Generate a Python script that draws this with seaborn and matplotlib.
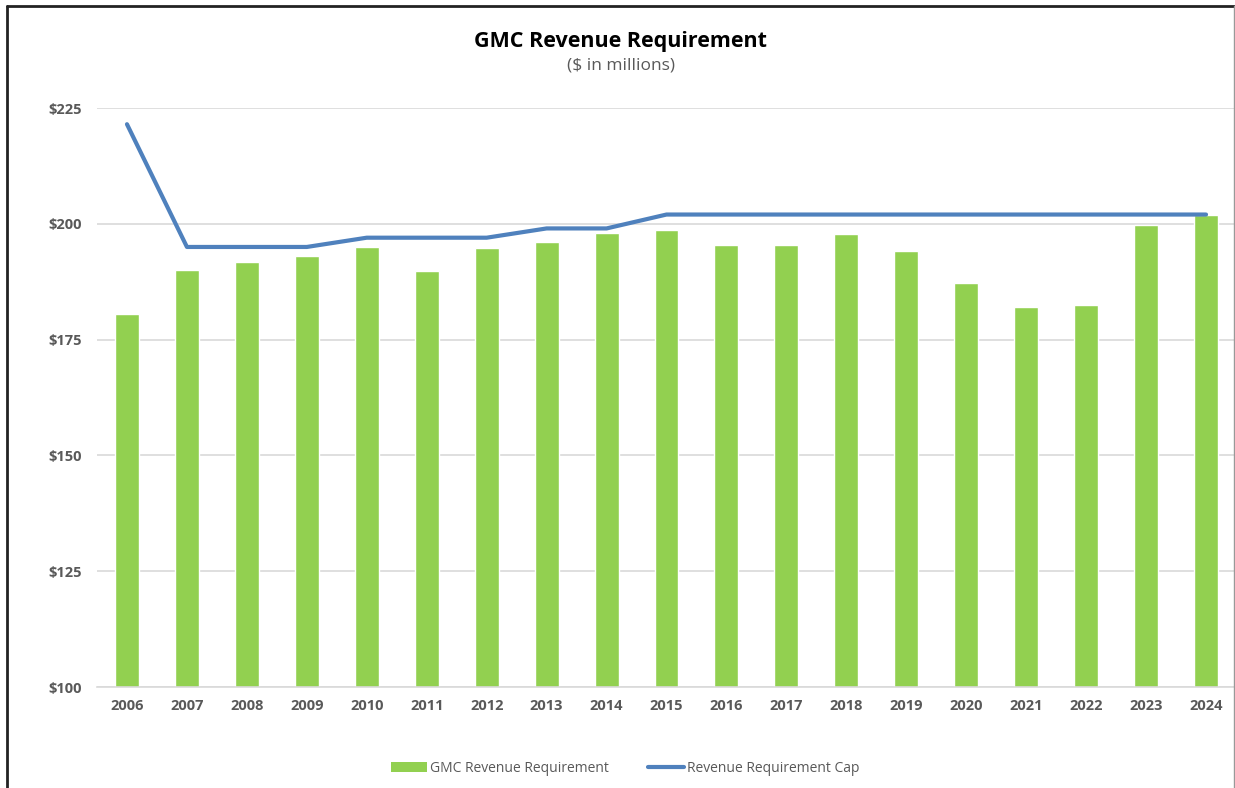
import matplotlib
matplotlib.use("Agg")
import matplotlib.pyplot as plt
import seaborn as sns
import numpy as np
from matplotlib.lines import Line2D
from matplotlib.patches import Patch

years = ["2006", "2007", "2008", "2009", "2010", "2011", "2012", "2013", "2014", "2015",
         "2016", "2017", "2018", "2019", "2020", "2021", "2022", "2023", "2024"]
revenue = [180.5, 190.0, 191.7, 193.0, 195.0, 189.8, 194.8, 196.1, 198.0, 198.6,
           195.4, 195.4, 197.8, 194.1, 187.2, 182.0, 182.5, 199.7, 201.9]
cap = [221.5, 195.0, 195.0, 195.0, 197.0, 197.0, 197.0, 199.0, 199.0, 202.0,
       202.0, 202.0, 202.0, 202.0, 202.0, 202.0, 202.0, 202.0, 202.0]
yticks = [100, 125, 150, 175, 200, 225]
ytick_labels = ["$100", "$125", "$150", "$175", "$200", "$225"]

sns.set_theme(style="white")
plt.rcParams['font.family'] = ['Open Sans', 'DejaVu Sans']

GREEN = "#92D050"
BLUE = "#4F81BD"
GREY = "#595959"

fig = plt.figure(figsize=(12.35, 7.88), dpi=100)
ax = fig.add_axes([97/1235, 1 - 687/788, (1236 - 97)/1235, (687 - 108)/788])

sns.barplot(x=years, y=revenue, color=GREEN, width=0.4, saturation=1, ax=ax, zorder=2)
sns.lineplot(x=np.arange(len(years)), y=cap, color=BLUE, linewidth=3, ax=ax, zorder=3)

ax.set_ylim(100, 225)
ax.set_xlim(-0.5, len(years) - 0.5)
ax.set_yticks(yticks)
ax.set_yticklabels(ytick_labels)
ax.yaxis.grid(True, color="#D9D9D9", linewidth=1.2, zorder=0)
ax.set_axisbelow(True)
for s in ["top", "right", "left"]:
    ax.spines[s].set_visible(False)
ax.spines["bottom"].set_color("#D9D9D9")
ax.spines["bottom"].set_linewidth(1.2)
ax.set_xlabel("")
ax.set_ylabel("")
ax.tick_params(axis="both", length=0, labelsize=10.5, labelcolor=GREY)
ax.tick_params(axis="y", pad=11)
ax.tick_params(axis="x", pad=9)
for lbl in ax.get_xticklabels() + ax.get_yticklabels():
    lbl.set_fontweight("bold")

fig.text(621/1235, 1 - 42/788, "GMC Revenue Requirement", ha="center", va="center",
         fontsize=15.5, fontweight="bold", color="black")
fig.text(621/1235, 1 - 66/788, "($ in millions)", ha="center", va="center",
         fontsize=12.5, color=GREY)

handles = [Patch(facecolor=GREEN, edgecolor="none", label="GMC Revenue Requirement"),
           Line2D([0], [0], color=BLUE, linewidth=3, label="Revenue Requirement Cap")]
fig.legend(handles=handles, loc="center", bbox_to_anchor=(625/1235, 1 - 768/788),
           ncol=2, frameon=False, fontsize=10, labelcolor=GREY,
           handlelength=2.6, handletextpad=0.2, columnspacing=2.8)

# outer frame
fig.add_artist(Line2D([7/1235, 7/1235], [0, 1 - 6/788], transform=fig.transFigure, color="#222222", linewidth=2))
fig.add_artist(Line2D([7/1235, 1234/1235], [1 - 6/788, 1 - 6/788], transform=fig.transFigure, color="#222222", linewidth=2))
fig.add_artist(Line2D([1234/1235, 1234/1235], [0, 1 - 6/788], transform=fig.transFigure, color="#999999", linewidth=1))

fig.savefig("out.png", dpi=100)
